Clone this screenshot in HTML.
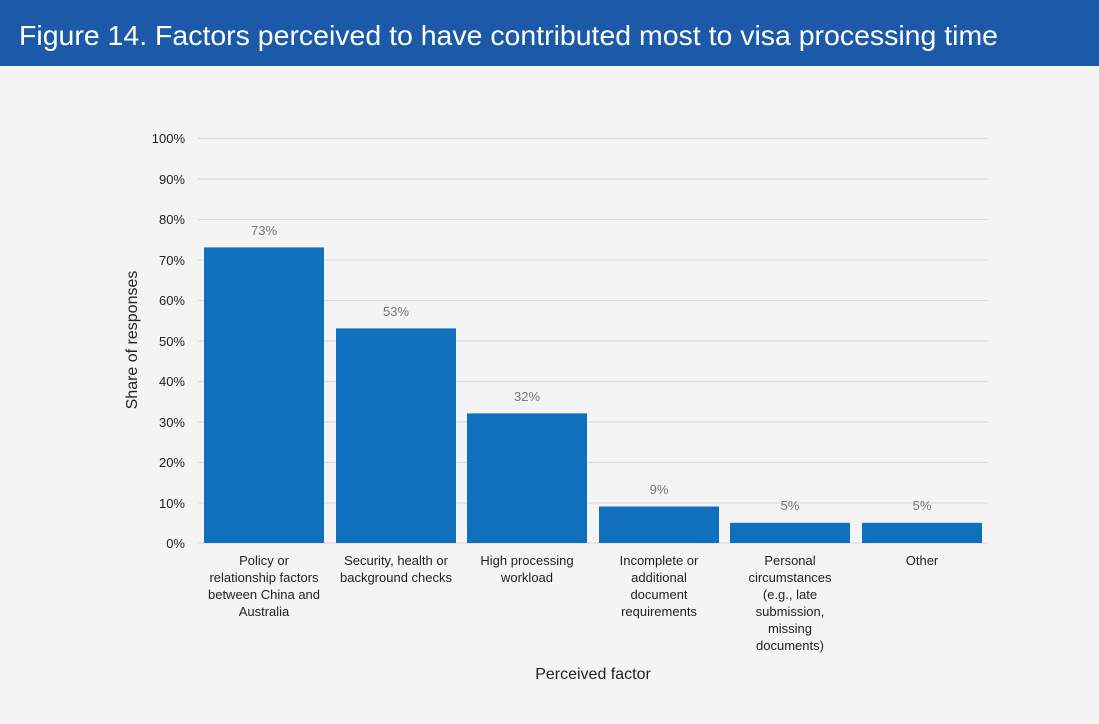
<!DOCTYPE html>
<html><head><meta charset="utf-8"><style>
body{margin:0;background:#f4f4f4;overflow:hidden;}
</style></head><body>
<svg width="1099" height="724" xmlns="http://www.w3.org/2000/svg" font-family="Liberation Sans, sans-serif" style="display:block">
<rect width="1099" height="724" fill="#f4f4f4"/>
<rect width="1099" height="66" fill="#1c5aa9"/>
<text x="19" y="45" font-size="28" fill="#fff" textLength="979" lengthAdjust="spacingAndGlyphs">Figure 14. Factors perceived to have contributed most to visa processing time</text>
<g stroke="#dcdcdc" stroke-width="1.2">
<line x1="198" x2="988" y1="138.5" y2="138.5"/><line x1="198" x2="988" y1="179" y2="179"/>
<line x1="198" x2="988" y1="219.5" y2="219.5"/><line x1="198" x2="988" y1="260" y2="260"/>
<line x1="198" x2="988" y1="300.5" y2="300.5"/><line x1="198" x2="988" y1="341" y2="341"/>
<line x1="198" x2="988" y1="381.5" y2="381.5"/><line x1="198" x2="988" y1="422" y2="422"/>
<line x1="198" x2="988" y1="462.5" y2="462.5"/><line x1="198" x2="988" y1="503" y2="503"/>
<line x1="198" x2="988" y1="543" y2="543"/>
</g>
<g font-size="13" fill="#222" text-anchor="end">
<text x="185" y="143">100%</text><text x="185" y="184">90%</text><text x="185" y="224">80%</text>
<text x="185" y="265">70%</text><text x="185" y="305">60%</text><text x="185" y="346">50%</text>
<text x="185" y="386">40%</text><text x="185" y="427">30%</text><text x="185" y="467">20%</text>
<text x="185" y="508">10%</text><text x="185" y="548">0%</text>
</g>
<text transform="translate(137,340) rotate(-90)" font-size="16" fill="#222" text-anchor="middle">Share of responses</text>
<g fill="#1170bd">
<rect x="204" y="247.4" width="120" height="295.6"/>
<rect x="336" y="328.4" width="120" height="214.6"/>
<rect x="467" y="413.4" width="120" height="129.6"/>
<rect x="599" y="506.5" width="120" height="36.5"/>
<rect x="730" y="522.8" width="120" height="20.2"/>
<rect x="862" y="522.8" width="120" height="20.2"/>
</g>
<g font-size="13" fill="#777" text-anchor="middle">
<text x="264" y="235">73%</text><text x="396" y="316">53%</text><text x="527" y="401">32%</text>
<text x="659" y="494">9%</text><text x="790" y="510">5%</text><text x="922" y="510">5%</text>
</g>
<g font-size="13" fill="#222" text-anchor="middle">
<text x="264" y="565">Policy or</text><text x="264" y="582">relationship factors</text><text x="264" y="599">between China and</text><text x="264" y="616">Australia</text>
<text x="396" y="565">Security, health or</text><text x="396" y="582">background checks</text>
<text x="527" y="565">High processing</text><text x="527" y="582">workload</text>
<text x="659" y="565">Incomplete or</text><text x="659" y="582">additional</text><text x="659" y="599">document</text><text x="659" y="616">requirements</text>
<text x="790" y="565">Personal</text><text x="790" y="582">circumstances</text><text x="790" y="599">(e.g., late</text><text x="790" y="616">submission,</text><text x="790" y="633">missing</text><text x="790" y="650">documents)</text>
<text x="922" y="565">Other</text>
</g>
<text x="593" y="679" font-size="16" fill="#222" text-anchor="middle">Perceived factor</text>
</svg>
</body></html>
